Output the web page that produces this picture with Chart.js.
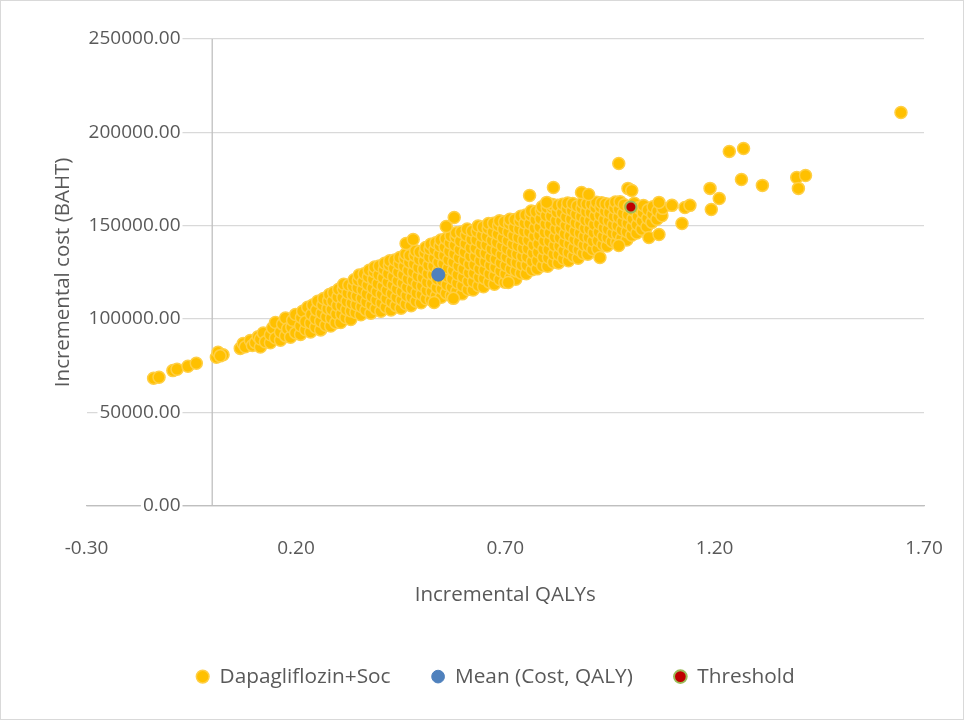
<!DOCTYPE html>
<html>
<head>
<meta charset="utf-8">
<title>Incremental cost-effectiveness plane</title>
<script src="https://cdn.jsdelivr.net/npm/chart.js@4/dist/chart.umd.min.js"></script>
<style>
  html, body { margin: 0; padding: 0; background: #fff; }
  #wrap { position: relative; width: 964px; height: 720px; }
  #ceChart { display: block; }
  #frame { position: absolute; left: 0; top: 0; width: 964px; height: 720px; box-sizing: border-box; border: 1px solid #d9d9d9; pointer-events: none; }
</style>
</head>
<body>
<div id="wrap">
  <canvas id="ceChart" width="964" height="720"></canvas>
  <div id="frame"></div>
</div>
<script>
const qalyTicks = [-0.3, 0.2, 0.7, 1.2, 1.7];
const costTicks = [0, 50000, 100000, 150000, 200000, 250000];
const seriesNames = ['Dapagliflozin+Soc', 'Mean (Cost, QALY)', 'Threshold'];

// [incremental QALY, incremental cost]
const dapaPoints = [
  // left tail
  [-0.140, 68300], [-0.127, 68800], [-0.094, 72400], [-0.084, 73100], [-0.058, 74700], [-0.038, 76300],
  [0.010, 79600], [0.014, 82200], [0.026, 80900], [0.019, 80300],
  [0.067, 84300], [0.074, 86900], [0.079, 85200], [0.091, 88500], [0.096, 85900], [0.103, 87400], [0.110, 90600],
  [0.115, 85000], [0.115, 89300], [0.122, 92500], [0.127, 87800],
  [0.139, 87300], [0.139, 91600], [0.144, 95200], [0.151, 98200], [0.151, 89900],
  [0.163, 88700], [0.163, 93100], [0.168, 97300], [0.175, 91000], [0.175, 100600], [0.180, 94800],
  [0.187, 90300], [0.190, 95600], [0.192, 99400], [0.199, 102400], [0.199, 92600],
  [0.211, 91800], [0.211, 96400], [0.213, 100900], [0.216, 104200], [0.223, 94300], [0.223, 98700], [0.228, 106300],
  [0.235, 93100], [0.235, 97900], [0.237, 102500], [0.240, 107500], [0.247, 95600], [0.247, 100200], [0.249, 104800], [0.252, 109600],
  [0.259, 94200], [0.259, 98800], [0.262, 103300], [0.264, 107600], [0.266, 111000], [0.271, 96700], [0.273, 101200], [0.276, 105600], [0.278, 109900], [0.280, 113200],
  [0.283, 96300], [0.285, 100600], [0.286, 105200], [0.288, 109700], [0.290, 114200], [0.295, 98100], [0.297, 102800], [0.299, 107300], [0.300, 111800], [0.302, 116000],
  [0.307, 98200], [0.309, 102700], [0.310, 107200], [0.312, 111600], [0.313, 116200], [0.314, 118700], [0.319, 100800], [0.321, 105100], [0.322, 109500], [0.324, 114000], [0.326, 118200],
  [0.331, 99800], [0.332, 104300], [0.334, 108600], [0.336, 113100], [0.337, 117700], [0.339, 121100], [0.343, 103500], [0.345, 107700], [0.346, 112300], [0.348, 116800], [0.349, 120900], [0.351, 123600],
  [0.355, 102300], [0.357, 106600], [0.358, 111200], [0.360, 115700], [0.361, 120100], [0.363, 124300], [0.367, 104800], [0.369, 109300], [0.370, 113600], [0.372, 118300], [0.373, 122600], [0.375, 126200],
  [0.379, 103100], [0.381, 107600], [0.382, 112100], [0.384, 116600], [0.385, 121300], [0.387, 125400], [0.388, 127900], [0.391, 105600], [0.393, 110200], [0.394, 114700], [0.396, 119100], [0.398, 123700], [0.399, 128400],
  [0.403, 104200], [0.405, 108700], [0.406, 113300], [0.408, 117700], [0.409, 122200], [0.411, 126600], [0.412, 129900], [0.415, 106400], [0.417, 111000], [0.418, 115400], [0.420, 119900], [0.421, 124400], [0.423, 128900], [0.424, 131200],
  [0.427, 104900], [0.429, 109200], [0.430, 113700], [0.432, 118300], [0.433, 122800], [0.435, 127200], [0.436, 131600], [0.439, 107200], [0.441, 111700], [0.442, 116200], [0.444, 120600], [0.445, 125200], [0.447, 129700], [0.448, 133000],
  [0.451, 105800], [0.453, 110300], [0.454, 114800], [0.456, 119300], [0.457, 123800], [0.459, 128300], [0.460, 132600], [0.462, 134900], [0.463, 108100], [0.465, 112600], [0.466, 117100], [0.468, 121600], [0.469, 126100], [0.471, 130500], [0.472, 134100],
  [0.475, 107200], [0.477, 111700], [0.478, 116200], [0.480, 120700], [0.481, 125200], [0.483, 129600], [0.484, 134100], [0.486, 136600], [0.487, 109600], [0.489, 114100], [0.490, 118600], [0.492, 123100], [0.493, 127600], [0.495, 132000], [0.496, 136000],
  [0.499, 108700], [0.501, 113200], [0.502, 117700], [0.504, 122200], [0.505, 126700], [0.507, 131200], [0.508, 135600], [0.510, 138300], [0.511, 110900], [0.513, 115400], [0.514, 119900], [0.516, 124400], [0.517, 128900], [0.519, 133300], [0.520, 137700], [0.522, 140100],
  [0.523, 110300], [0.525, 114800], [0.526, 119300], [0.528, 123800], [0.529, 128300], [0.531, 132700], [0.532, 137200], [0.534, 140900], [0.535, 112400], [0.537, 116900], [0.538, 121400], [0.540, 125900], [0.541, 130400], [0.543, 134800], [0.544, 139300], [0.546, 142300],
  [0.547, 111700], [0.549, 116200], [0.550, 120700], [0.552, 125200], [0.553, 129700], [0.555, 134100], [0.556, 138600], [0.558, 143100], [0.559, 113900], [0.561, 118400], [0.562, 122900], [0.564, 127400], [0.565, 131800], [0.567, 136300], [0.568, 140800], [0.570, 144600],
  [0.571, 112600], [0.573, 117100], [0.574, 121600], [0.576, 126100], [0.577, 130600], [0.579, 135000], [0.580, 139500], [0.582, 144000], [0.583, 146300], [0.584, 114900], [0.586, 119400], [0.587, 123900], [0.589, 128400], [0.590, 132800], [0.592, 137300], [0.593, 141800], [0.595, 146700],
  [0.597, 113500], [0.598, 118000], [0.600, 122500], [0.601, 127000], [0.603, 131500], [0.604, 135900], [0.606, 140400], [0.607, 144900], [0.609, 148200], [0.611, 115800], [0.612, 120300], [0.614, 124800], [0.615, 129300], [0.617, 133700], [0.618, 138200], [0.620, 142700], [0.621, 147200],
  [0.623, 115600], [0.624, 120100], [0.626, 124600], [0.627, 129100], [0.629, 133600], [0.630, 138000], [0.632, 142500], [0.633, 147000], [0.635, 149800], [0.636, 117900], [0.638, 122400], [0.639, 126900], [0.641, 131400], [0.642, 135800], [0.644, 140300], [0.645, 144800], [0.647, 149300],
  [0.648, 117300], [0.650, 121800], [0.651, 126300], [0.653, 130800], [0.654, 135300], [0.656, 139700], [0.657, 144200], [0.659, 148700], [0.660, 151200], [0.662, 119800], [0.663, 124300], [0.665, 128800], [0.666, 133200], [0.668, 137700], [0.669, 142200], [0.671, 146700], [0.672, 151300],
  [0.674, 118700], [0.675, 123200], [0.677, 127700], [0.678, 132200], [0.680, 136700], [0.681, 141100], [0.683, 145600], [0.684, 150100], [0.686, 152600], [0.687, 121200], [0.689, 125700], [0.690, 130200], [0.692, 134600], [0.693, 139100], [0.695, 143600], [0.696, 148100], [0.698, 152100],
  [0.699, 119700], [0.701, 124200], [0.702, 128700], [0.704, 133200], [0.705, 137700], [0.707, 142100], [0.708, 146600], [0.710, 151100], [0.711, 153400], [0.713, 122300], [0.714, 126800], [0.716, 131300], [0.717, 135700], [0.719, 140200], [0.720, 144700], [0.722, 149200], [0.723, 153300],
  [0.725, 121300], [0.726, 125800], [0.728, 130300], [0.729, 134800], [0.731, 139300], [0.732, 143700], [0.734, 148200], [0.735, 152700], [0.737, 155100], [0.738, 124600], [0.740, 129100], [0.741, 133600], [0.743, 138000], [0.744, 142500], [0.746, 147000], [0.747, 151500], [0.749, 155800],
  [0.750, 124300], [0.752, 128800], [0.753, 133300], [0.755, 137800], [0.756, 142300], [0.758, 146700], [0.759, 151200], [0.761, 155700], [0.762, 157900], [0.764, 126400], [0.765, 130900], [0.767, 135400], [0.768, 139800], [0.770, 144300], [0.771, 148800], [0.773, 153300], [0.774, 157600],
  [0.776, 126900], [0.777, 131400], [0.779, 135900], [0.780, 140400], [0.782, 144900], [0.783, 149300], [0.785, 153800], [0.786, 158300], [0.788, 160100], [0.789, 128600], [0.791, 133100], [0.792, 137600], [0.794, 142000], [0.795, 146500], [0.797, 151000], [0.798, 155500], [0.800, 159800],
  [0.801, 128300], [0.803, 132800], [0.804, 137300], [0.806, 141800], [0.807, 146300], [0.809, 150700], [0.810, 155200], [0.812, 159700], [0.813, 161300], [0.815, 130400], [0.816, 134900], [0.818, 139400], [0.819, 143800], [0.821, 148300], [0.822, 152800], [0.824, 157300], [0.825, 160900],
  [0.827, 130100], [0.828, 134600], [0.830, 139100], [0.831, 143600], [0.833, 148100], [0.834, 152500], [0.836, 157000], [0.837, 161500], [0.839, 132300], [0.840, 136800], [0.842, 141300], [0.843, 145700], [0.845, 150200], [0.846, 154700], [0.848, 159200], [0.849, 162200],
  [0.851, 131200], [0.852, 135700], [0.854, 140200], [0.855, 144700], [0.857, 149200], [0.858, 153600], [0.860, 158100], [0.861, 161900], [0.863, 133700], [0.864, 138200], [0.866, 142700], [0.867, 147100], [0.869, 151600], [0.870, 156100], [0.872, 160600],
  [0.874, 132600], [0.876, 137100], [0.877, 141600], [0.879, 146100], [0.880, 150600], [0.882, 155000], [0.883, 159500], [0.885, 162400], [0.886, 135200], [0.888, 139700], [0.889, 144200], [0.891, 148600], [0.892, 153100], [0.894, 157600], [0.895, 161700],
  [0.897, 134700], [0.899, 139200], [0.900, 143700], [0.902, 148200], [0.903, 152700], [0.905, 157100], [0.906, 161600], [0.909, 137300], [0.910, 141800], [0.912, 146300], [0.913, 150700], [0.915, 155200], [0.916, 159700], [0.918, 162600],
  [0.921, 137600], [0.922, 142100], [0.924, 146600], [0.925, 151100], [0.927, 155600], [0.928, 160000], [0.930, 162300], [0.933, 139900], [0.934, 144400], [0.936, 148900], [0.937, 153300], [0.939, 157800], [0.940, 161800],
  [0.943, 139100], [0.945, 143600], [0.946, 148100], [0.948, 152600], [0.949, 157100], [0.951, 161500], [0.955, 141600], [0.957, 146100], [0.958, 150600], [0.960, 155000], [0.961, 159500], [0.963, 162700],
  [0.966, 141000], [0.968, 145500], [0.969, 150000], [0.971, 154500], [0.972, 158900], [0.974, 162900], [0.978, 143300], [0.979, 147800], [0.981, 152300], [0.982, 156700], [0.984, 161200],
  [0.990, 142300], [0.991, 146800], [0.993, 151300], [0.994, 155800], [0.996, 160200], [1.002, 144900], [1.003, 149400], [1.005, 153800], [1.006, 158300], [1.008, 162000],
  [1.014, 146100], [1.015, 150600], [1.017, 155100], [1.018, 159600], [1.026, 148100], [1.027, 152600], [1.029, 157000], [1.030, 160800],
  [1.038, 149500], [1.040, 154000], [1.041, 158500], [1.050, 151800], [1.052, 156200], [1.053, 160200], [1.062, 153500], [1.064, 157900], [1.074, 155400], [1.076, 159300],
  // scattered points outside the main cloud
  [0.463, 140500], [0.480, 142600], [0.559, 149600], [0.578, 154400], [0.758, 166200], [0.815, 170500], [0.799, 162500],
  [0.882, 167800], [0.899, 166700], [0.971, 183300], [0.993, 170000], [1.002, 168900],
  [1.067, 162500], [1.098, 160900], [1.129, 159800], [1.141, 160900], [1.122, 151200], [1.043, 143700], [1.067, 145300],
  [1.189, 170000], [1.211, 164600], [1.192, 158700], [1.235, 189800], [1.269, 191400], [1.264, 174800], [1.314, 171600],
  [1.396, 175800], [1.417, 176900], [1.400, 170000], [1.645, 210600],
  [0.926, 133000], [0.971, 139400], [0.576, 111100], [0.530, 108900], [0.707, 119600]
];
const meanPoint = [0.54, 123800];
const thresholdPoint = [1.0, 160000];

const textColor = '#595959';
const titleFont = {size: 20.5};
Chart.defaults.font.family = "'Open Sans', 'Noto Sans', sans-serif";
Chart.defaults.font.size = 19;
Chart.defaults.color = textColor;

// vertical axis line drawn at QALY = 0, like the value axis crossing in the original
const zeroLine = {
  id: 'zeroLine',
  beforeDatasetsDraw(chart) {
    const {ctx, chartArea, scales} = chart;
    const x = scales.x.getPixelForValue(0);
    ctx.save();
    ctx.strokeStyle = '#bfbfbf';
    ctx.lineWidth = 1.3;
    ctx.beginPath();
    ctx.moveTo(x, chartArea.top);
    ctx.lineTo(x, chartArea.bottom);
    ctx.stroke();
    ctx.restore();
  }
};

const toXY = ([q, c]) => ({x: q, y: c});

const data = {
  datasets: [{
    label: seriesNames[0],
    data: dapaPoints.map(toXY),
    backgroundColor: '#ffc000',
    borderColor: '#ffcf45',
    borderWidth: 1.5,
    pointRadius: 6,
    order: 3
  }, {
    label: seriesNames[1],
    data: [toXY(meanPoint)],
    backgroundColor: '#4f81bd',
    borderColor: '#4f81bd',
    borderWidth: 1,
    pointRadius: 6.5,
    order: 2
  }, {
    label: seriesNames[2],
    data: [toXY(thresholdPoint)],
    backgroundColor: '#c00000',
    borderColor: '#9bbb59',
    borderWidth: 2,
    pointRadius: 5.5,
    order: 1
  }]
};

const config = {
  type: 'scatter',
  data: data,
  plugins: [zeroLine],
  options: {
    responsive: false,
    animation: false,
    layout: {
      padding: {left: 67, right: 40, top: 39, bottom: 23}
    },
    scales: {
      x: {
        type: 'linear',
        position: 'bottom',
        min: -0.3,
        max: 1.7,
        afterBuildTicks: scale => {
          scale.ticks = qalyTicks.map(v => ({value: v}));
        },
        // invisible tick marks push the labels down without widening the side padding
        grid: {
          display: true,
          drawOnChartArea: false,
          drawTicks: true,
          tickLength: 31,
          color: 'rgba(0,0,0,0)',
          tickColor: 'rgba(0,0,0,0)'
        },
        border: {display: true, color: '#bfbfbf', width: 1.3},
        ticks: {
          padding: 0,
          autoSkip: false,
          maxRotation: 0,
          callback: value => Number(value).toFixed(2)
        },
        title: {
          display: true,
          text: 'Incremental QALYs',
          font: titleFont,
          padding: {top: 23, bottom: 18}
        }
      },
      y: {
        type: 'linear',
        position: 'left',
        min: 0,
        max: 250000,
        afterBuildTicks: scale => {
          scale.ticks = costTicks.map(v => ({value: v}));
        },
        grid: {
          drawTicks: false,
          lineWidth: 1.3,
          color: c => (c.tick && c.tick.value === 0 ? '#bfbfbf' : '#d9d9d9')
        },
        border: {display: false},
        ticks: {
          mirror: true,
          crossAlign: 'far',
          padding: 2,
          showLabelBackdrop: true,
          backdropColor: '#ffffff',
          backdropPadding: {left: 2, right: 2, top: 0, bottom: 0},
          callback: value => Number(value).toFixed(2)
        },
        title: {
          display: true,
          text: 'Incremental cost (BAHT)',
          font: titleFont,
          padding: {top: -16, bottom: 7}
        }
      }
    },
    plugins: {
      legend: {
        display: true,
        position: 'bottom',
        labels: {
          usePointStyle: true,
          pointStyle: 'circle',
          boxWidth: 13,
          boxHeight: 9,
          padding: 41,
          font: {size: 20.8},
          sort: (a, b) => a.datasetIndex - b.datasetIndex
        }
      },
      tooltip: {enabled: false}
    }
  }
};

const ceChart = new Chart(document.getElementById('ceChart'), config);
</script>
</body>
</html>
